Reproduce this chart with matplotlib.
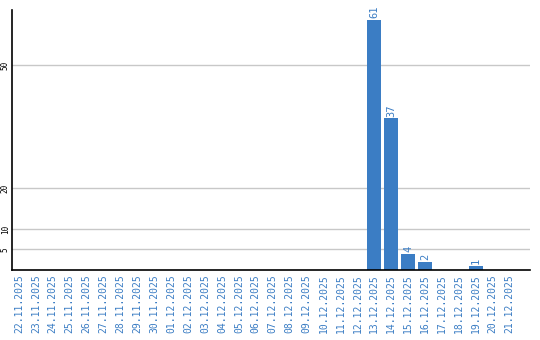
import matplotlib
matplotlib.use('Agg')
import matplotlib.pyplot as plt

days = ['22.11.2025', '23.11.2025', '24.11.2025', '25.11.2025', '26.11.2025',
        '27.11.2025', '28.11.2025', '29.11.2025', '30.11.2025', '01.12.2025',
        '02.12.2025', '03.12.2025', '04.12.2025', '05.12.2025', '06.12.2025',
        '07.12.2025', '08.12.2025', '09.12.2025', '10.12.2025', '11.12.2025',
        '12.12.2025', '13.12.2025', '14.12.2025', '15.12.2025', '16.12.2025',
        '17.12.2025', '18.12.2025', '19.12.2025', '20.12.2025', '21.12.2025']
counts = [0, 0, 0, 0, 0, 0, 0, 0, 0, 0,
          0, 0, 0, 0, 0, 0, 0, 0, 0, 0,
          0, 61, 37, 4, 2, 0, 0, 1, 0, 0]
yticks = [5, 10, 20, 50]

blue = '#3b7dc4'

fig = plt.figure(figsize=(5.4, 3.4), dpi=100)
ax = fig.add_axes([0.0222, 0.206, 0.9593, 0.764])

x = list(range(len(days)))
ax.bar(x, counts, width=0.82, color=blue, zorder=3)

for i, v in enumerate(counts):
    if v > 0:
        ax.text(i, v + 0.4, str(v), rotation=90, ha='center', va='bottom',
                color=blue, fontsize=7.5, family='DejaVu Sans Mono')

ax.set_xlim(-0.41, 30.2)
ax.set_ylim(0, 63.4)
ax.set_xticks(x)
ax.set_xticklabels(days, rotation=90, color=blue, fontsize=7,
                   family='DejaVu Sans Mono')
ax.set_yticks(yticks)
ax.set_yticklabels([str(t) for t in yticks], rotation=90, fontsize=5.5,
                   family='DejaVu Sans Mono', va='center')
ax.tick_params(length=0, pad=3)
ax.tick_params(axis='y', pad=1.5)
ax.yaxis.grid(True, color='#c8c8c8', lw=1, zorder=0)
for s in ['top', 'right']:
    ax.spines[s].set_visible(False)
for s in ['left', 'bottom']:
    ax.spines[s].set_linewidth(1.2)
    ax.spines[s].set_zorder(4)

plt.savefig('out.png', dpi=100)
